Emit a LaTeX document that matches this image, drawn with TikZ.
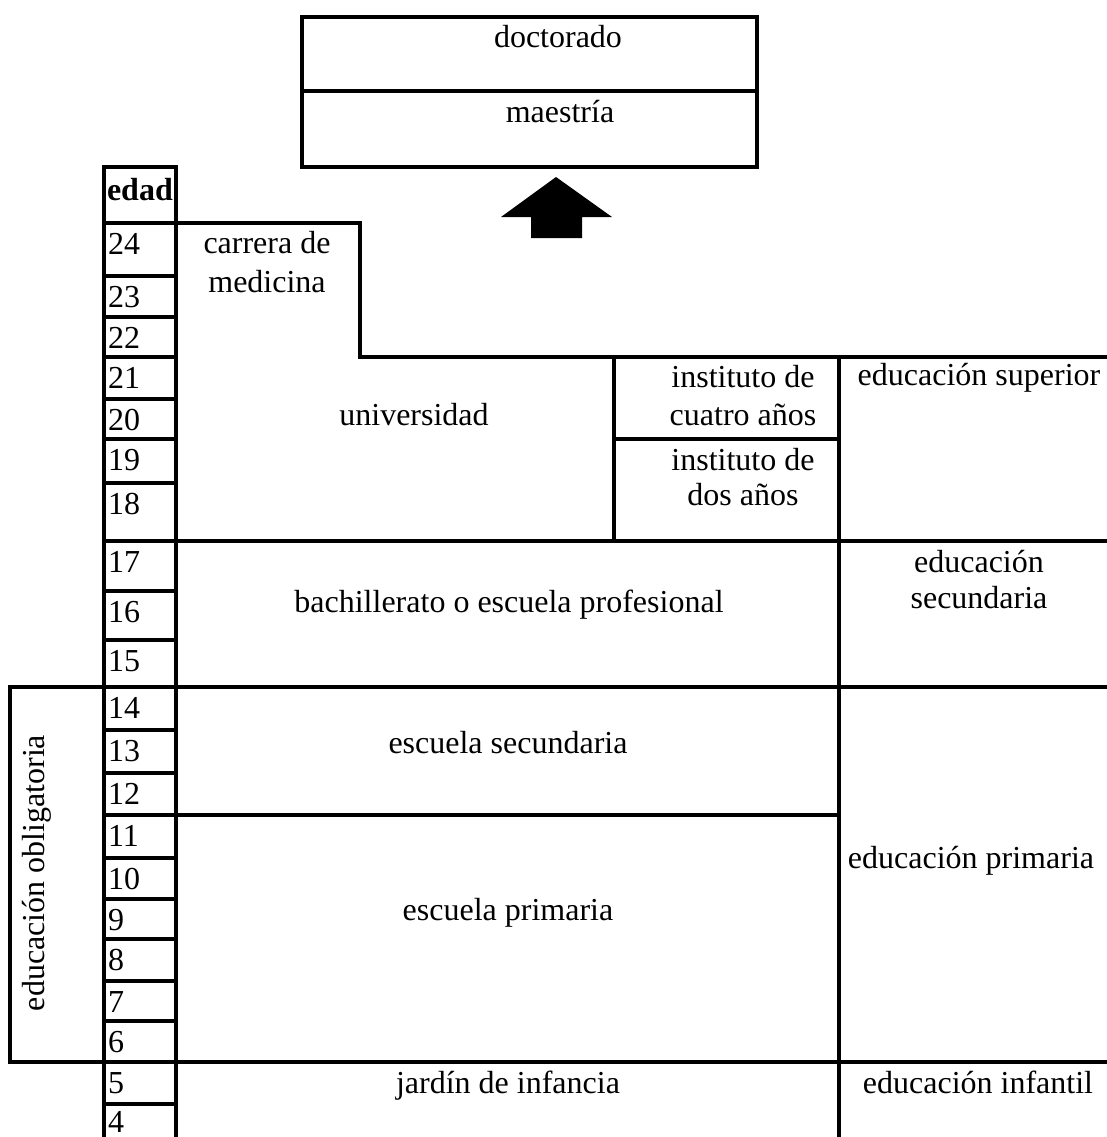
\documentclass[tikz,border=0pt]{standalone}
\usepackage{fontspec}
\setmainfont{Liberation Serif}
\begin{document}
\begin{tikzpicture}[x=1pt,y=-1pt, line width=4pt, line cap=rect,
  lbl/.style={anchor=base, inner sep=0pt, font=\fontsize{32}{38}\selectfont},
  num/.style={anchor=base west, inner sep=0pt, font=\fontsize{32}{38}\selectfont}]
\useasboundingbox (0,0) rectangle (1107,1137);
\fill[white] (0,0) rectangle (1107,1137);

% top box
\draw (302,17) rectangle (757,167);
\draw (302,91) -- (757,91);
\node[lbl] (doc) at (558,48) {doctorado};
\node[lbl] (mae) at (560,123) {maestría};

% arrow
\fill (556,177) -- (612,217) -- (582,217) -- (582,238) -- (531,238) -- (531,217) -- (501,217) -- cycle;

% edad column
\draw (104,1140) -- (104,167) -- (176,167) -- (176,1140);
\foreach \y in {223,276,317,357,399,439,483,591,640,730,773,858,899,939,981,1021,1104}
  \draw (104,\y) -- (176,\y);
\node[num, font=\fontsize{32}{38}\selectfont\bfseries] (edad) at (105,200) {edad};

\foreach \t/\n in {223/24,276/23,317/22,357/21,399/20,439/19,483/18,541/17,591/16,640/15,687/14,730/13,773/12,815/11,858/10,899/9,939/8,981/7,1021/6,1062/5}
  \node[num] (n\n) at (106,\t+31) {\n};
\node[num] (n4) at (106,1132) {4};

% region lines
\draw (176,223) -- (360,223) -- (360,357) -- (1110,357);
\draw (104,541) -- (1110,541);
\draw (104,687) -- (1110,687);
\draw (104,815) -- (839,815);
\draw (104,1062) -- (1110,1062);
\draw (104,687) -- (10,687) -- (10,1062) -- (104,1062);
\draw (614,357) -- (614,541);
\draw (614,439) -- (839,439);
\draw (839,357) -- (839,1140);

% labels
\node[lbl] (med1) at (267,253) {carrera de};
\node[lbl] (med2) at (267,292) {medicina};
\node[lbl] (uni) at (414,425) {universidad};
\node[lbl] (i4a) at (743,387) {instituto de};
\node[lbl] (i4b) at (743,425) {cuatro años};
\node[lbl] (i2a) at (743,470) {instituto de};
\node[lbl] (i2b) at (743,505) {dos años};
\node[lbl] (esup) at (979,385) {educación superior};
\node[lbl] (esec1) at (979,572) {educación};
\node[lbl] (esec2) at (979,608) {secundaria};
\node[lbl] (bach) at (509,612) {bachillerato o escuela profesional};
\node[lbl] (escsec) at (508,753) {escuela secundaria};
\node[lbl] (escpri) at (508,920) {escuela primaria};
\node[lbl] (epri) at (971,868) {educación primaria};
\node[lbl] (jar) at (508,1093) {jardín de infancia};
\node[lbl] (einf) at (978,1093) {educación infantil};
\node[inner sep=0pt, rotate=90, font=\fontsize{32}{38}\selectfont] (oblig) at (37,873) {educación obligatoria};
\end{tikzpicture}
\end{document}
